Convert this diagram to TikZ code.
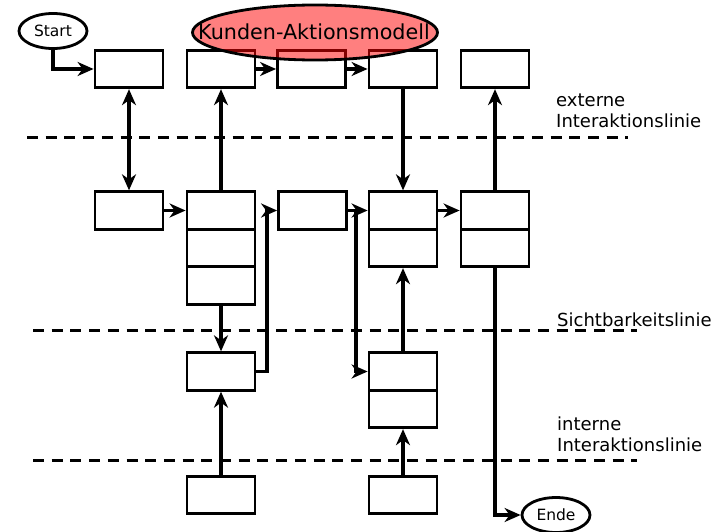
\documentclass[tikz,border=0pt]{standalone}
\usepackage{fontspec}
\setmainfont{DejaVu Sans}
\usetikzlibrary{arrows.meta,shapes.geometric}
\tikzset{
  box/.style={draw,line width=2.8pt,minimum width=68pt,minimum height=37.5pt,inner sep=0pt},
  oval/.style={draw,ellipse,line width=2.8pt,minimum width=68pt,minimum height=35pt,inner sep=0pt,font=\fontsize{15.5}{18}\selectfont},
  tipA/.tip={Stealth[length=16pt,width=14pt,inset=5pt]},
  conn/.style={line width=3.1pt,-tipA},
  dconn/.style={line width=3.1pt,tipA-tipA},
  sepline/.style={line width=3pt,dash pattern=on 11pt off 7.7pt},
  lab/.style={anchor=base west,inner sep=0pt,font=\fontsize{18}{21}\selectfont}}
\begin{document}
\begin{tikzpicture}[x=1pt,y=-1pt]
\useasboundingbox (0,0) rectangle (720,532);
% top row
\node[box] (T1) at (129,69) {};
\node[box] (T2) at (221,69) {};
\node[box] (T3) at (311.5,69) {};
\node[box] (T4) at (403,69) {};
\node[box] (T5) at (495,69) {};
% middle row
\node[box] (M1) at (129,210.5) {};
\node[box] (M2a) at (221,210.5) {};
\node[box] (M2b) at (221,248) {};
\node[box] (M2c) at (221,285.5) {};
\node[box] (M3) at (312.5,210.5) {};
\node[box] (M4a) at (403,210.5) {};
\node[box] (M4b) at (403,248) {};
\node[box] (M5a) at (495,210.5) {};
\node[box] (M5b) at (495,248) {};
% lower row
\node[box] (L2) at (221,371.5) {};
\node[box] (L4a) at (403,371.5) {};
\node[box] (L4b) at (403,409) {};
% bottom row
\node[box] (B2) at (221,495) {};
\node[box] (B4) at (403,495) {};
% ovals
\node[oval] (start) at (53,31) {Start};
\node[oval] (ende) at (556,515) {Ende};
\node[draw,ellipse,line width=2.8pt,fill=red,fill opacity=0.5,
  minimum width=245pt,minimum height=55pt,inner sep=0pt] (kam) at (315,32.5) {};
\node[anchor=base,inner sep=0pt,font=\fontsize{20.7}{24}\selectfont] (kamt) at (314,40) {Kunden-Aktionsmodell};
% separator lines
\draw[sepline] (27,138) -- (628,138);
\draw[sepline] (33,330) -- (637,330);
\draw[sepline] (33,460) -- (637,460);
% labels
\node[lab] (l1) at (556,107) {externe};
\node[lab] (l2) at (556,128) {Interaktionslinie};
\node[lab] (l3) at (557,326) {Sichtbarkeitslinie};
\node[lab] (l4) at (557,430) {interne};
\node[lab] (l5) at (557,451) {Interaktionslinie};
% connectors
\draw[conn] (start.south) |- (T1.west);
\draw[dconn] (T1.south) -- (M1.north);
\draw[conn] (M2a.north) -- (T2.south);
\draw[conn] (T2.east) -- (T3.west);
\draw[conn] (T3.east) -- (T4.west);
\draw[conn] (T4.south) -- (M4a.north);
\draw[conn] (M5a.north) -- (T5.south);
\draw[conn] (M1.east) -- (M2a.west);
\draw[conn] (M2c.south) -- (L2.north);
\coordinate (k1) at (267,371.5);
\draw[conn] (L2.east) -- (k1) |- (M3.west);
\draw[conn] (M3.east) -- (M4a.west);
\coordinate (j1) at (356,211);
\draw[conn] (j1) |- (L4a.west);
\draw[conn] (L4a.north) -- (M4b.south);
\draw[conn] (M4a.east) -- (M5a.west);
\draw[conn] (M5b.south) |- (ende.west);
\draw[conn] (B2.north) -- (L2.south);
\draw[conn] (B4.north) -- (L4b.south);
\end{tikzpicture}
\end{document}
